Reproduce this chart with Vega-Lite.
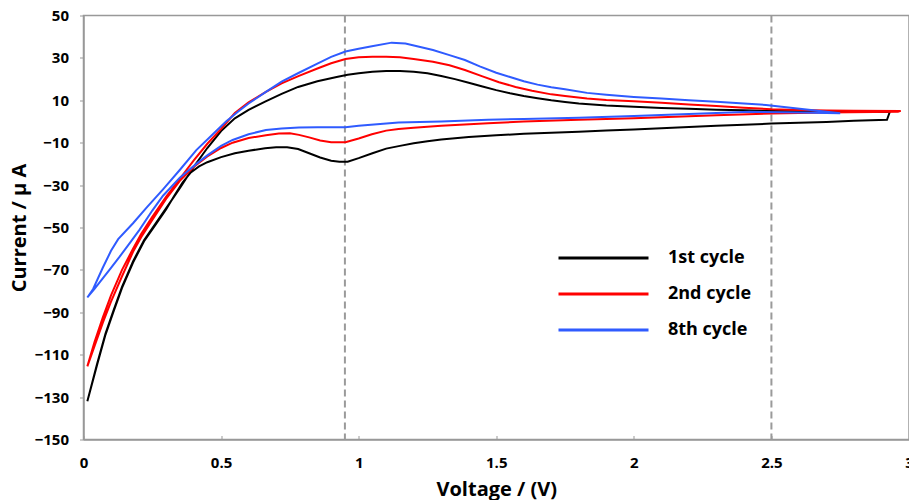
{
  "$schema": "https://vega.github.io/schema/vega-lite/v6.json",
  "width": 825.5,
  "height": 424,
  "autosize": {"type": "none"},
  "padding": {"left": 83.5, "top": 15.5, "right": 0, "bottom": 60.5},
  "background": "white",
  "config": {
    "view": {"stroke": "#999999", "strokeWidth": 1.5},
    "font": "Open Sans"
  },
  "datasets": {
    "curves": [
      {"s":"1st cycle","i":1,"v":0.014,"a":-132},{"s":"1st cycle","i":2,"v":0.05,"a":-114},{"s":"1st cycle","i":3,"v":0.08,"a":-100},{"s":"1st cycle","i":4,"v":0.108,"a":-89.5},{"s":"1st cycle","i":5,"v":0.14,"a":-78},{"s":"1st cycle","i":6,"v":0.18,"a":-66},{"s":"1st cycle","i":7,"v":0.22,"a":-56},{"s":"1st cycle","i":8,"v":0.26,"a":-48.5},{"s":"1st cycle","i":9,"v":0.3,"a":-41},{"s":"1st cycle","i":10,"v":0.35,"a":-31.5},{"s":"1st cycle","i":11,"v":0.4,"a":-21.5},{"s":"1st cycle","i":12,"v":0.45,"a":-12.5},{"s":"1st cycle","i":13,"v":0.5,"a":-4.5},{"s":"1st cycle","i":14,"v":0.55,"a":1.5},{"s":"1st cycle","i":15,"v":0.6,"a":5.5},{"s":"1st cycle","i":16,"v":0.66,"a":9.4},{"s":"1st cycle","i":17,"v":0.72,"a":13},{"s":"1st cycle","i":18,"v":0.78,"a":16.3},{"s":"1st cycle","i":19,"v":0.85,"a":19},{"s":"1st cycle","i":20,"v":0.92,"a":21},{"s":"1st cycle","i":21,"v":0.96,"a":22},{"s":"1st cycle","i":22,"v":1.0,"a":22.8},{"s":"1st cycle","i":23,"v":1.05,"a":23.5},{"s":"1st cycle","i":24,"v":1.1,"a":23.8},{"s":"1st cycle","i":25,"v":1.15,"a":23.8},{"s":"1st cycle","i":26,"v":1.2,"a":23.5},{"s":"1st cycle","i":27,"v":1.25,"a":22.8},{"s":"1st cycle","i":28,"v":1.3,"a":21.5},{"s":"1st cycle","i":29,"v":1.35,"a":20},{"s":"1st cycle","i":30,"v":1.4,"a":18.3},{"s":"1st cycle","i":31,"v":1.45,"a":16.5},{"s":"1st cycle","i":32,"v":1.5,"a":14.8},{"s":"1st cycle","i":33,"v":1.55,"a":13.3},{"s":"1st cycle","i":34,"v":1.6,"a":12},{"s":"1st cycle","i":35,"v":1.65,"a":11},{"s":"1st cycle","i":36,"v":1.7,"a":10},{"s":"1st cycle","i":37,"v":1.75,"a":9.2},{"s":"1st cycle","i":38,"v":1.8,"a":8.5},{"s":"1st cycle","i":39,"v":1.9,"a":7.6},{"s":"1st cycle","i":40,"v":2.0,"a":7},{"s":"1st cycle","i":41,"v":2.1,"a":6.4},{"s":"1st cycle","i":42,"v":2.2,"a":6},{"s":"1st cycle","i":43,"v":2.3,"a":5.6},{"s":"1st cycle","i":44,"v":2.4,"a":5.3},{"s":"1st cycle","i":45,"v":2.5,"a":5},{"s":"1st cycle","i":46,"v":2.6,"a":4.8},{"s":"1st cycle","i":47,"v":2.7,"a":4.7},{"s":"1st cycle","i":48,"v":2.8,"a":4.6},{"s":"1st cycle","i":49,"v":2.93,"a":4.5},
      {"s":"1st cycle","i":50,"v":2.92,"a":0.8},{"s":"1st cycle","i":51,"v":2.8,"a":0.3},{"s":"1st cycle","i":52,"v":2.7,"a":-0.2},{"s":"1st cycle","i":53,"v":2.6,"a":-0.6},{"s":"1st cycle","i":54,"v":2.5,"a":-1},{"s":"1st cycle","i":55,"v":2.4,"a":-1.5},{"s":"1st cycle","i":56,"v":2.3,"a":-2},{"s":"1st cycle","i":57,"v":2.2,"a":-2.6},{"s":"1st cycle","i":58,"v":2.1,"a":-3.2},{"s":"1st cycle","i":59,"v":2.0,"a":-3.8},{"s":"1st cycle","i":60,"v":1.9,"a":-4.3},{"s":"1st cycle","i":61,"v":1.8,"a":-4.8},{"s":"1st cycle","i":62,"v":1.7,"a":-5.3},{"s":"1st cycle","i":63,"v":1.6,"a":-5.8},{"s":"1st cycle","i":64,"v":1.5,"a":-6.5},{"s":"1st cycle","i":65,"v":1.4,"a":-7.3},{"s":"1st cycle","i":66,"v":1.3,"a":-8.5},{"s":"1st cycle","i":67,"v":1.25,"a":-9.3},{"s":"1st cycle","i":68,"v":1.2,"a":-10.3},{"s":"1st cycle","i":69,"v":1.15,"a":-11.5},{"s":"1st cycle","i":70,"v":1.1,"a":-12.8},{"s":"1st cycle","i":71,"v":1.05,"a":-15},{"s":"1st cycle","i":72,"v":1.0,"a":-17.3},{"s":"1st cycle","i":73,"v":0.96,"a":-19},{"s":"1st cycle","i":74,"v":0.93,"a":-19},{"s":"1st cycle","i":75,"v":0.9,"a":-18.5},{"s":"1st cycle","i":76,"v":0.86,"a":-17},{"s":"1st cycle","i":77,"v":0.82,"a":-15},{"s":"1st cycle","i":78,"v":0.78,"a":-13},{"s":"1st cycle","i":79,"v":0.74,"a":-12.2},{"s":"1st cycle","i":80,"v":0.7,"a":-12.2},{"s":"1st cycle","i":81,"v":0.66,"a":-12.6},{"s":"1st cycle","i":82,"v":0.6,"a":-13.8},{"s":"1st cycle","i":83,"v":0.55,"a":-15},{"s":"1st cycle","i":84,"v":0.5,"a":-16.8},{"s":"1st cycle","i":85,"v":0.45,"a":-19.2},{"s":"1st cycle","i":86,"v":0.42,"a":-21.2},{"s":"1st cycle","i":87,"v":0.39,"a":-24},{"s":"1st cycle","i":88,"v":0.36,"a":-28.8},{"s":"1st cycle","i":89,"v":0.33,"a":-35},{"s":"1st cycle","i":90,"v":0.3,"a":-41.5},{"s":"1st cycle","i":91,"v":0.26,"a":-49},{"s":"1st cycle","i":92,"v":0.22,"a":-56.5},{"s":"1st cycle","i":93,"v":0.18,"a":-66.5},{"s":"1st cycle","i":94,"v":0.14,"a":-78.5},{"s":"1st cycle","i":95,"v":0.108,"a":-90},{"s":"1st cycle","i":96,"v":0.08,"a":-100.5},{"s":"1st cycle","i":97,"v":0.05,"a":-114.5},{"s":"1st cycle","i":98,"v":0.014,"a":-132},
      {"s":"2nd cycle","i":1,"v":0.014,"a":-115.5},{"s":"2nd cycle","i":2,"v":0.04,"a":-104},{"s":"2nd cycle","i":3,"v":0.07,"a":-92.5},{"s":"2nd cycle","i":4,"v":0.1,"a":-82},{"s":"2nd cycle","i":5,"v":0.14,"a":-70},{"s":"2nd cycle","i":6,"v":0.18,"a":-60},{"s":"2nd cycle","i":7,"v":0.21,"a":-53},{"s":"2nd cycle","i":8,"v":0.25,"a":-45},{"s":"2nd cycle","i":9,"v":0.3,"a":-35.5},{"s":"2nd cycle","i":10,"v":0.35,"a":-27},{"s":"2nd cycle","i":11,"v":0.4,"a":-18.5},{"s":"2nd cycle","i":12,"v":0.45,"a":-10.5},{"s":"2nd cycle","i":13,"v":0.5,"a":-3.5},{"s":"2nd cycle","i":14,"v":0.55,"a":4},{"s":"2nd cycle","i":15,"v":0.6,"a":9},{"s":"2nd cycle","i":16,"v":0.663,"a":14},{"s":"2nd cycle","i":17,"v":0.72,"a":18},{"s":"2nd cycle","i":18,"v":0.783,"a":21.5},{"s":"2nd cycle","i":19,"v":0.85,"a":25},{"s":"2nd cycle","i":20,"v":0.9,"a":27.5},{"s":"2nd cycle","i":21,"v":0.952,"a":29.5},{"s":"2nd cycle","i":22,"v":1.0,"a":30.3},{"s":"2nd cycle","i":23,"v":1.05,"a":30.6},{"s":"2nd cycle","i":24,"v":1.1,"a":30.6},{"s":"2nd cycle","i":25,"v":1.15,"a":30.3},{"s":"2nd cycle","i":26,"v":1.2,"a":29.5},{"s":"2nd cycle","i":27,"v":1.27,"a":28.2},{"s":"2nd cycle","i":28,"v":1.33,"a":26.5},{"s":"2nd cycle","i":29,"v":1.386,"a":24.3},{"s":"2nd cycle","i":30,"v":1.45,"a":21.3},{"s":"2nd cycle","i":31,"v":1.51,"a":18.5},{"s":"2nd cycle","i":32,"v":1.57,"a":16.3},{"s":"2nd cycle","i":33,"v":1.63,"a":14.5},{"s":"2nd cycle","i":34,"v":1.7,"a":12.8},{"s":"2nd cycle","i":35,"v":1.75,"a":12},{"s":"2nd cycle","i":36,"v":1.83,"a":10.8},{"s":"2nd cycle","i":37,"v":1.9,"a":10.1},{"s":"2nd cycle","i":38,"v":2.0,"a":9.5},{"s":"2nd cycle","i":39,"v":2.1,"a":8.8},{"s":"2nd cycle","i":40,"v":2.2,"a":8},{"s":"2nd cycle","i":41,"v":2.3,"a":7.3},{"s":"2nd cycle","i":42,"v":2.4,"a":6.5},{"s":"2nd cycle","i":43,"v":2.5,"a":5.8},{"s":"2nd cycle","i":44,"v":2.6,"a":5.4},{"s":"2nd cycle","i":45,"v":2.7,"a":5.2},{"s":"2nd cycle","i":46,"v":2.8,"a":5.1},{"s":"2nd cycle","i":47,"v":2.97,"a":5},
      {"s":"2nd cycle","i":48,"v":2.96,"a":4.6},{"s":"2nd cycle","i":49,"v":2.7,"a":4.3},{"s":"2nd cycle","i":50,"v":2.5,"a":3.8},{"s":"2nd cycle","i":51,"v":2.3,"a":3},{"s":"2nd cycle","i":52,"v":2.1,"a":2},{"s":"2nd cycle","i":53,"v":2.0,"a":1.5},{"s":"2nd cycle","i":54,"v":1.8,"a":0.8},{"s":"2nd cycle","i":55,"v":1.6,"a":0},{"s":"2nd cycle","i":56,"v":1.47,"a":-0.8},{"s":"2nd cycle","i":57,"v":1.3,"a":-2},{"s":"2nd cycle","i":58,"v":1.2,"a":-3},{"s":"2nd cycle","i":59,"v":1.145,"a":-3.5},{"s":"2nd cycle","i":60,"v":1.1,"a":-4.3},{"s":"2nd cycle","i":61,"v":1.048,"a":-6},{"s":"2nd cycle","i":62,"v":1.0,"a":-8},{"s":"2nd cycle","i":63,"v":0.952,"a":-9.8},{"s":"2nd cycle","i":64,"v":0.9,"a":-9.8},{"s":"2nd cycle","i":65,"v":0.86,"a":-9},{"s":"2nd cycle","i":66,"v":0.82,"a":-7.5},{"s":"2nd cycle","i":67,"v":0.783,"a":-6.3},{"s":"2nd cycle","i":68,"v":0.75,"a":-5.6},{"s":"2nd cycle","i":69,"v":0.71,"a":-5.7},{"s":"2nd cycle","i":70,"v":0.663,"a":-6.5},{"s":"2nd cycle","i":71,"v":0.6,"a":-7.8},{"s":"2nd cycle","i":72,"v":0.542,"a":-10},{"s":"2nd cycle","i":73,"v":0.5,"a":-12.5},{"s":"2nd cycle","i":74,"v":0.45,"a":-16.5},{"s":"2nd cycle","i":75,"v":0.4,"a":-21.5},{"s":"2nd cycle","i":76,"v":0.35,"a":-28},{"s":"2nd cycle","i":77,"v":0.3,"a":-36.5},{"s":"2nd cycle","i":78,"v":0.25,"a":-46.5},{"s":"2nd cycle","i":79,"v":0.21,"a":-54.5},{"s":"2nd cycle","i":80,"v":0.18,"a":-61.5},{"s":"2nd cycle","i":81,"v":0.14,"a":-73},{"s":"2nd cycle","i":82,"v":0.1,"a":-85},{"s":"2nd cycle","i":83,"v":0.07,"a":-95},{"s":"2nd cycle","i":84,"v":0.04,"a":-106},{"s":"2nd cycle","i":85,"v":0.014,"a":-115.5},
      {"s":"8th cycle","i":1,"v":0.014,"a":-83},{"s":"8th cycle","i":2,"v":0.035,"a":-79},{"s":"8th cycle","i":3,"v":0.07,"a":-69},{"s":"8th cycle","i":4,"v":0.1,"a":-61},{"s":"8th cycle","i":5,"v":0.126,"a":-55.5},{"s":"8th cycle","i":6,"v":0.18,"a":-48},{"s":"8th cycle","i":7,"v":0.23,"a":-40.5},{"s":"8th cycle","i":8,"v":0.289,"a":-32},{"s":"8th cycle","i":9,"v":0.349,"a":-23},{"s":"8th cycle","i":10,"v":0.41,"a":-13.5},{"s":"8th cycle","i":11,"v":0.47,"a":-6},{"s":"8th cycle","i":12,"v":0.518,"a":0},{"s":"8th cycle","i":13,"v":0.56,"a":4.5},{"s":"8th cycle","i":14,"v":0.6,"a":8.5},{"s":"8th cycle","i":15,"v":0.663,"a":14},{"s":"8th cycle","i":16,"v":0.72,"a":18.8},{"s":"8th cycle","i":17,"v":0.783,"a":23},{"s":"8th cycle","i":18,"v":0.85,"a":27.3},{"s":"8th cycle","i":19,"v":0.9,"a":30.5},{"s":"8th cycle","i":20,"v":0.952,"a":33},{"s":"8th cycle","i":21,"v":1.0,"a":34.3},{"s":"8th cycle","i":22,"v":1.048,"a":35.5},{"s":"8th cycle","i":23,"v":1.12,"a":37.2},{"s":"8th cycle","i":24,"v":1.17,"a":36.8},{"s":"8th cycle","i":25,"v":1.22,"a":35.3},{"s":"8th cycle","i":26,"v":1.27,"a":33.7},{"s":"8th cycle","i":27,"v":1.33,"a":31.3},{"s":"8th cycle","i":28,"v":1.386,"a":29},{"s":"8th cycle","i":29,"v":1.44,"a":26},{"s":"8th cycle","i":30,"v":1.5,"a":23},{"s":"8th cycle","i":31,"v":1.55,"a":21},{"s":"8th cycle","i":32,"v":1.6,"a":19},{"s":"8th cycle","i":33,"v":1.65,"a":17.4},{"s":"8th cycle","i":34,"v":1.7,"a":16.2},{"s":"8th cycle","i":35,"v":1.75,"a":15.2},{"s":"8th cycle","i":36,"v":1.83,"a":13.5},{"s":"8th cycle","i":37,"v":1.9,"a":12.6},{"s":"8th cycle","i":38,"v":2.0,"a":11.6},{"s":"8th cycle","i":39,"v":2.1,"a":10.8},{"s":"8th cycle","i":40,"v":2.2,"a":10},{"s":"8th cycle","i":41,"v":2.3,"a":9.3},{"s":"8th cycle","i":42,"v":2.4,"a":8.5},{"s":"8th cycle","i":43,"v":2.48,"a":7.8},
      {"s":"8th cycle","i":44,"v":2.75,"a":3.9},{"s":"8th cycle","i":45,"v":2.6,"a":4.2},{"s":"8th cycle","i":46,"v":2.42,"a":4.6},{"s":"8th cycle","i":47,"v":2.3,"a":4},{"s":"8th cycle","i":48,"v":2.2,"a":3.5},{"s":"8th cycle","i":49,"v":2.0,"a":2.6},{"s":"8th cycle","i":50,"v":1.8,"a":1.8},{"s":"8th cycle","i":51,"v":1.6,"a":1.2},{"s":"8th cycle","i":52,"v":1.47,"a":0.8},{"s":"8th cycle","i":53,"v":1.3,"a":0},{"s":"8th cycle","i":54,"v":1.145,"a":-0.5},{"s":"8th cycle","i":55,"v":1.0,"a":-2},{"s":"8th cycle","i":56,"v":0.952,"a":-2.7},{"s":"8th cycle","i":57,"v":0.85,"a":-2.7},{"s":"8th cycle","i":58,"v":0.783,"a":-2.8},{"s":"8th cycle","i":59,"v":0.72,"a":-3.3},{"s":"8th cycle","i":60,"v":0.663,"a":-4},{"s":"8th cycle","i":61,"v":0.6,"a":-6},{"s":"8th cycle","i":62,"v":0.542,"a":-8.7},{"s":"8th cycle","i":63,"v":0.5,"a":-11.5},{"s":"8th cycle","i":64,"v":0.45,"a":-16},{"s":"8th cycle","i":65,"v":0.41,"a":-20},{"s":"8th cycle","i":66,"v":0.35,"a":-26.5},{"s":"8th cycle","i":67,"v":0.289,"a":-35},{"s":"8th cycle","i":68,"v":0.25,"a":-42},{"s":"8th cycle","i":69,"v":0.204,"a":-51},{"s":"8th cycle","i":70,"v":0.17,"a":-57},{"s":"8th cycle","i":71,"v":0.13,"a":-64},{"s":"8th cycle","i":72,"v":0.1,"a":-69},{"s":"8th cycle","i":73,"v":0.07,"a":-74},{"s":"8th cycle","i":74,"v":0.04,"a":-79},{"s":"8th cycle","i":75,"v":0.014,"a":-83}
    ],
    "marks": [{"v": 0.95}, {"v": 2.5}]
  },
  "layer": [
    {
      "data": {"name": "marks"},
      "mark": {"type": "rule", "color": "#9a9a9a", "strokeWidth": 2, "strokeDash": [7, 4]},
      "encoding": {
        "x": {"field": "v", "type": "quantitative", "scale": {"domain": [0, 3]}}
      }
    },
    {
      "data": {"name": "curves"},
      "mark": {"type": "line", "strokeWidth": 2, "clip": true},
      "encoding": {
        "x": {
          "field": "v", "type": "quantitative",
          "scale": {"domain": [0, 3], "nice": false, "zero": false},
          "axis": {
            "title": "Voltage / (V)",
            "values": [0, 0.5, 1, 1.5, 2, 2.5, 3],
            "format": "~g",
            "grid": false,
            "domainColor": "#999999", "domainWidth": 1.5,
            "tickColor": "#999999", "tickSize": -4, "tickWidth": 1,
            "labelPadding": 20,
            "labelFont": "Open Sans", "labelFontWeight": "bold", "labelFontSize": 15, "labelColor": "#000000",
            "labelFlush": false, "labelOverlap": false,
            "titleFont": "Open Sans", "titleFontWeight": "bold", "titleFontSize": 20, "titleColor": "#000000",
            "titlePadding": 9
          }
        },
        "y": {
          "field": "a", "type": "quantitative",
          "scale": {"domain": [-150, 50], "nice": false, "zero": false},
          "axis": {
            "title": "Current / μ A",
            "values": [-150, -130, -110, -90, -70, -50, -30, -10, 10, 30, 50],
            "format": "d",
            "grid": false,
            "domainColor": "#999999", "domainWidth": 1.5,
            "tickColor": "#999999", "tickSize": 4, "tickWidth": 1,
            "labelPadding": 11,
            "labelFont": "Open Sans", "labelFontWeight": "bold", "labelFontSize": 15, "labelColor": "#000000",
            "labelFlush": false, "labelOverlap": false,
            "titleFont": "Open Sans", "titleFontWeight": "bold", "titleFontSize": 20, "titleColor": "#000000",
            "titlePadding": 5
          }
        },
        "color": {
          "field": "s", "type": "nominal",
          "scale": {"domain": ["1st cycle", "2nd cycle", "8th cycle"], "range": ["#000000", "#ff0000", "#2f5bff"]},
          "legend": {
            "title": null,
            "orient": "none",
            "legendX": 473.5,
            "legendY": 224.75,
            "padding": 0,
            "symbolType": "stroke",
            "symbolSize": 8100,
            "symbolStrokeWidth": 3,
            "clipHeight": 35.5,
            "rowPadding": 0,
            "labelOffset": 18,
            "labelFont": "Open Sans", "labelFontWeight": "bold", "labelFontSize": 18, "labelColor": "#000000"
          }
        },
        "order": {"field": "i", "type": "quantitative"}
      }
    }
  ]
}
